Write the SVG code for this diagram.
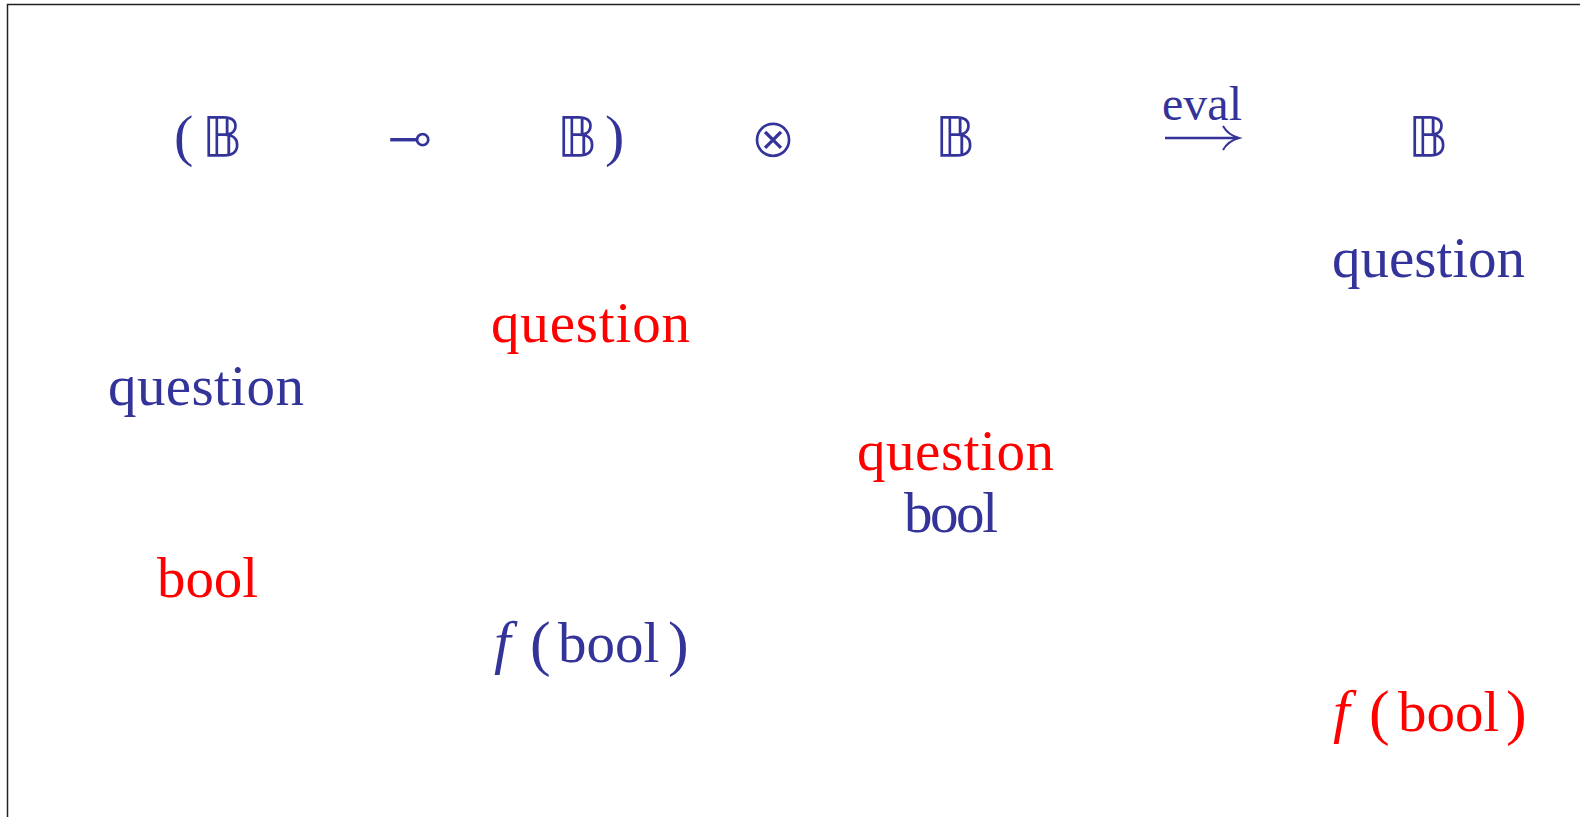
<svg xmlns="http://www.w3.org/2000/svg" width="1580" height="817" viewBox="0 0 1580 817">
<style>
  text { font-family: "Liberation Serif", "Times New Roman", serif; font-size: 57px; }
  .b { fill: #333399; }
  .r { fill: #ff0000; }
  .m { text-anchor: middle; }
  .bb { font-family: "DejaVu Sans", "DejaVu Serif", sans-serif; font-size: 55px; }
  .sym { font-family: "DejaVu Sans", sans-serif; stroke: #ffffff; stroke-width: 1.2px; font-size: 55px; }
  .it { font-style: italic; font-size: 60px; }
  .p { font-size: 62px; }
  .tp { font-size: 58px; }
  .ev { font-size: 48px; }
</style>
<rect width="1580" height="817" fill="#ffffff"/>
<path d="M7.5 817 V4.5 H1580" fill="none" stroke="#222222" stroke-width="1.5"/>

<g id="formula">
  <text class="b tp" x="174" y="155">(</text>
  <text class="b bb m" x="222" y="156">𝔹</text>
  <text class="b sym m" x="410" y="157">⊸</text>
  <text class="b bb m" x="577" y="156">𝔹</text>
  <text class="b tp" x="605" y="155">)</text>
  <text class="b sym m" x="773" y="157">⊗</text>
  <text class="b bb m" x="955" y="156">𝔹</text>
  <text class="b m ev" x="1202" y="120">eval</text>
  <g id="eval-arrow" stroke="#333399" fill="none">
    <line x1="1165" y1="138" x2="1237" y2="138" stroke-width="2.6"/>
    <path d="M1223 126 Q1228 135 1239 138 Q1228 141 1223 150" stroke-width="2"/>
  </g>
  <text class="b bb m" x="1428" y="156">𝔹</text>
</g>

<g id="n-question-left"><text class="b" x="108" y="405" textLength="196" lengthAdjust="spacing">question</text></g>
<g id="n-bool-left"><text class="r" x="157" y="597" textLength="101" lengthAdjust="spacing">bool</text></g>
<g id="n-question-mid"><text class="r" x="491" y="342" textLength="199" lengthAdjust="spacing">question</text></g>
<g id="n-f-bool-mid">
  <text class="b"><tspan class="it" x="494" y="662">f</tspan><tspan class="p" x="530" y="664">(</tspan><tspan x="558" y="662">bool</tspan><tspan class="p" x="668" y="664">)</tspan></text>
</g>
<g id="n-question-center"><text class="r" x="857" y="470" textLength="197" lengthAdjust="spacing">question</text></g>
<g id="n-bool-center"><text class="b" x="904" y="532" textLength="94" lengthAdjust="spacing">bool</text></g>
<g id="n-question-right"><text class="b" x="1332" y="277" textLength="193" lengthAdjust="spacing">question</text></g>
<g id="n-f-bool-right">
  <text class="r"><tspan class="it" x="1333" y="731">f</tspan><tspan class="p" x="1369" y="733">(</tspan><tspan x="1398" y="731">bool</tspan><tspan class="p" x="1506" y="733">)</tspan></text>
</g>
</svg>
